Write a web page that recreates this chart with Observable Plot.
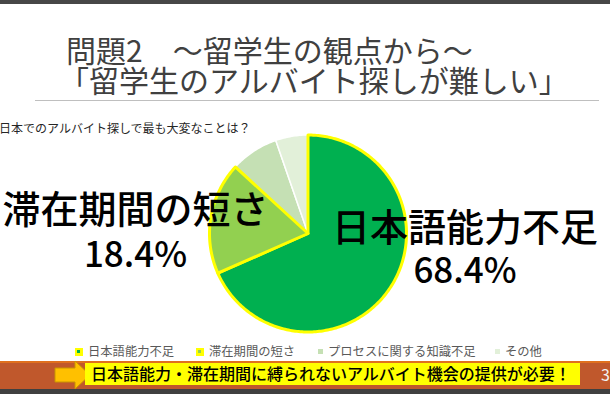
<!DOCTYPE html>
<html><head><meta charset="utf-8">
<script src="https://cdn.jsdelivr.net/npm/d3@7"></script>
<script src="https://cdn.jsdelivr.net/npm/@observablehq/plot@0.6"></script>
<style>
html,body{margin:0;padding:0;background:#fff;}
#slide{position:relative;width:610px;height:394px;overflow:hidden;font-family:"Noto Sans CJK JP","Noto Sans",sans-serif;background:#fff;}
#chart{position:absolute;left:0;top:0;}
.abs{position:absolute;white-space:nowrap;}
.pre{white-space:pre;}
.big{font-size:35px;font-weight:500;color:#000;text-align:center;transform:translateX(-50%);}
.big::first-line{font-size:38px;}
</style></head><body>
<div id="slide">
  <div id="chart"></div>
</div>
<script>
// ---- data ----
const categories = ["日本語能力不足", "滞在期間の短さ", "プロセスに関する知識不足", "その他"];
const values = [68.4, 18.4, 7.9, 5.3];
const colors = ["#00B050", "#92D050", "#C5E0B4", "#E2F0D9"];
const titleLines = ["問題2　～留学生の観点から～", "「留学生のアルバイト探しが難しい」"];
const question = "日本でのアルバイト探しで最も大変なことは？";
const message = "日本語能力・滞在期間に縛られないアルバイト機会の提供が必要！";
const pageNumber = "3";

// ---- pie geometry from data ----
const arcs = d3.pie().sort(null).value(d => d)(values);
const pts = [];
arcs.forEach((a, i) => {
  const cat = categories[i];
  pts.push({cat, x: 0, y: 0, major: i < 2});
  const n = Math.max(2, Math.ceil((a.endAngle - a.startAngle) / (Math.PI / 180)));
  for (let k = 0; k <= n; k++) {
    const t = a.startAngle + (a.endAngle - a.startAngle) * k / n;
    pts.push({cat, x: Math.sin(t), y: Math.cos(t), major: i < 2});
  }
});
const cx = 307.5, cy = 233, R = 98.5;
const chart = Plot.plot({
  width: 610, height: 394, margin: 0,
  style: {background: "transparent", overflow: "visible"},
  x: {domain: [-1, 1], range: [cx - R, cx + R], axis: null},
  y: {domain: [-1, 1], range: [cy + R, cy - R], axis: null},
  color: {domain: categories, range: colors},
  marks: [
    Plot.line(pts.filter(d => !d.major), {x: "x", y: "y", z: "cat", fill: "cat", stroke: "#ffffff", strokeWidth: 1.5, curve: "linear-closed"}),
    Plot.line(pts.filter(d => d.major), {x: "x", y: "y", z: "cat", fill: "cat", stroke: "#FFFF00", strokeWidth: 3, strokeLinejoin: "round", curve: "linear-closed"})
  ]
});
document.getElementById("chart").appendChild(chart);

// ---- slide decorations & text ----
const slide = document.getElementById("slide");
function add(content, css, cls, isText) {
  const d = document.createElement("div");
  d.className = "abs" + (cls ? " " + cls : "");
  if (isText) d.textContent = content; else d.innerHTML = content;
  Object.assign(d.style, css);
  slide.appendChild(d);
  return d;
}
// top bar
add("", {left: "0px", top: "0px", width: "610px", height: "4px", background: "#474747"});
// title (single text, two lines)
add(titleLines.join("\n"), {left: "59px", top: "34px", textIndent: "7px", fontSize: "30px", lineHeight: "30px", color: "#404040"}, "pre", true);
add("", {left: "35px", top: "99.5px", width: "564px", height: "1.5px", background: "#BFBFBF"});
// question
add(question, {left: "-1px", top: "121.5px", fontSize: "12px", lineHeight: "12px", color: "#262626"}, "", true);
// big data labels (single text each: category + percentage)
function bigLabel(text, pct, x, top, lh) {
  add(text + "\n" + pct, {left: x + "px", top: top + "px", lineHeight: lh + "px"}, "pre big", true);
}
bigLabel(categories[1], values[1].toFixed(1) + "%", 135.5, 184.4, 45);
bigLabel(categories[0], values[0].toFixed(1) + "%", 465, 203.4, 43);
// legend
const legX = [88, 209, 328, 505];
categories.forEach((c, i) => {
  const mx = legX[i] - (i < 2 ? 13 : 10);
  if (i < 2) {
    add("", {left: mx + "px", top: "347.5px", width: "7.5px", height: "8px", background: "#FFFF00"});
    add("", {left: (mx + 2.3) + "px", top: "350px", width: "3px", height: "3px", background: colors[i]});
  } else {
    add("", {left: mx + "px", top: "349px", width: "5px", height: "5px", background: colors[i]});
  }
  add(c, {left: legX[i] + "px", top: "344.7px", fontSize: "12.3px", lineHeight: "12.3px", color: "#595959"}, "", true);
});
// bottom banner
add("", {left: "0px", top: "360.5px", width: "610px", height: "28px", background: "#C0582C"});
add("", {left: "0px", top: "360.5px", width: "610px", height: "2px", background: "#E0701E"});
add("", {left: "0px", top: "388.5px", width: "610px", height: "6px", background: "#404040"});
add('<svg width="50" height="34"><polygon points="1,8 21,8 21,1 36,15 21,29 21,22 1,22" fill="#FFC000" stroke="#C99400" stroke-width="1"/></svg>', {left: "54px", top: "360px"});
add("", {left: "85px", top: "363px", width: "495px", height: "22px", background: "#FFFF00"});
add(message, {left: "91px", top: "365px", fontSize: "16px", lineHeight: "16px", color: "#000", fontWeight: "500"}, "", true);
add(pageNumber, {left: "601px", top: "366px", fontSize: "16px", lineHeight: "16px", color: "#F2F2F2"}, "", true);
</script>
</body></html>
